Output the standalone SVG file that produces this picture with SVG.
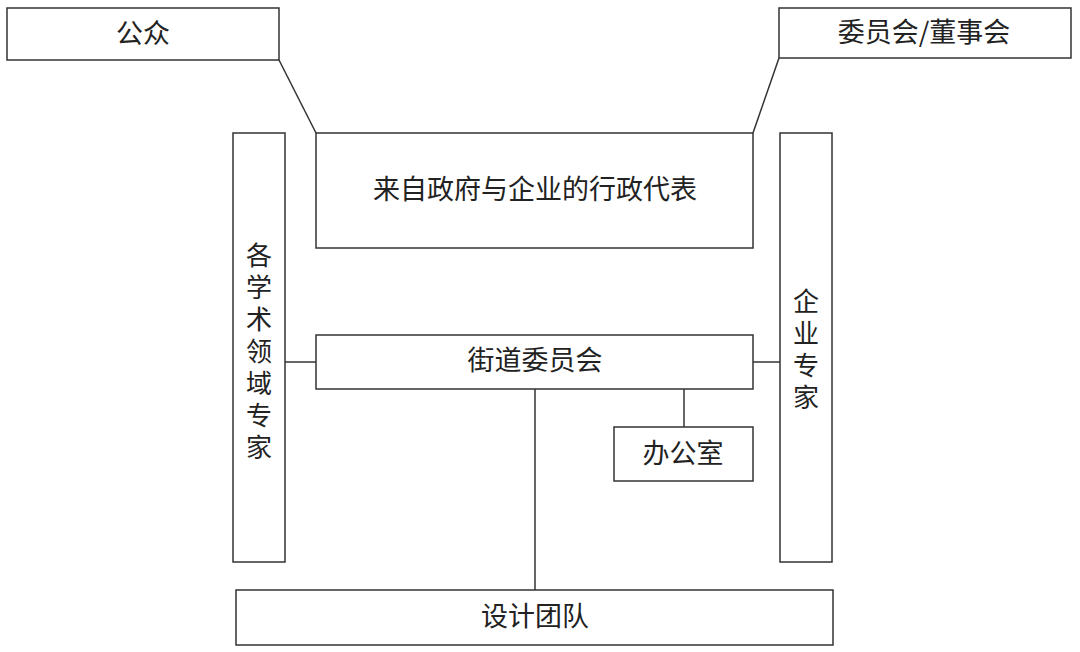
<svg xmlns="http://www.w3.org/2000/svg" width="1080" height="652" viewBox="0 0 1080 652">
<style>
rect{fill:#fff;stroke:#333;stroke-width:1.5}
line{stroke:#333;stroke-width:1.5}
text{font-family:"Noto Sans CJK SC","Noto Sans",sans-serif;font-size:27px;fill:#222;text-anchor:middle;dominant-baseline:central}
.v{font-size:26px}
</style>
<rect width="1080" height="652" style="stroke:none"/>
<g id="connectors">
<line x1="279" y1="60" x2="316" y2="133"/>
<line x1="779" y1="58" x2="753" y2="133"/>
<line x1="285" y1="362" x2="316" y2="362"/>
<line x1="753" y1="362" x2="780" y2="362"/>
<line x1="684" y1="389" x2="684" y2="427"/>
<line x1="535" y1="389" x2="535" y2="590"/>
</g>
<g id="public"><rect x="7" y="8" width="272" height="52"/><text x="143" y="31">公众</text></g>
<g id="board"><rect x="779" y="8" width="292" height="50"/><text x="924" y="30">委员会/董事会</text></g>
<g id="admin"><rect x="316" y="133" width="437" height="115"/><text x="535" y="187">来自政府与企业的行政代表</text></g>
<g id="academic"><rect x="233" y="133" width="52" height="429"/>
<text class="v" x="259" y="253">各</text><text class="v" x="259" y="285">学</text><text class="v" x="259" y="317">术</text><text class="v" x="259" y="349">领</text><text class="v" x="259" y="381">域</text><text class="v" x="259" y="413">专</text><text class="v" x="259" y="445">家</text></g>
<g id="enterprise"><rect x="780" y="133" width="52" height="429"/>
<text class="v" x="806" y="299">企</text><text class="v" x="806" y="331">业</text><text class="v" x="806" y="363">专</text><text class="v" x="806" y="395">家</text></g>
<g id="street"><rect x="316" y="335" width="437" height="54"/><text x="535" y="358">街道委员会</text></g>
<g id="office"><rect x="614" y="427" width="139" height="54"/><text x="683" y="451">办公室</text></g>
<g id="design"><rect x="236" y="590" width="597" height="55"/><text x="535" y="614">设计团队</text></g>
</svg>
